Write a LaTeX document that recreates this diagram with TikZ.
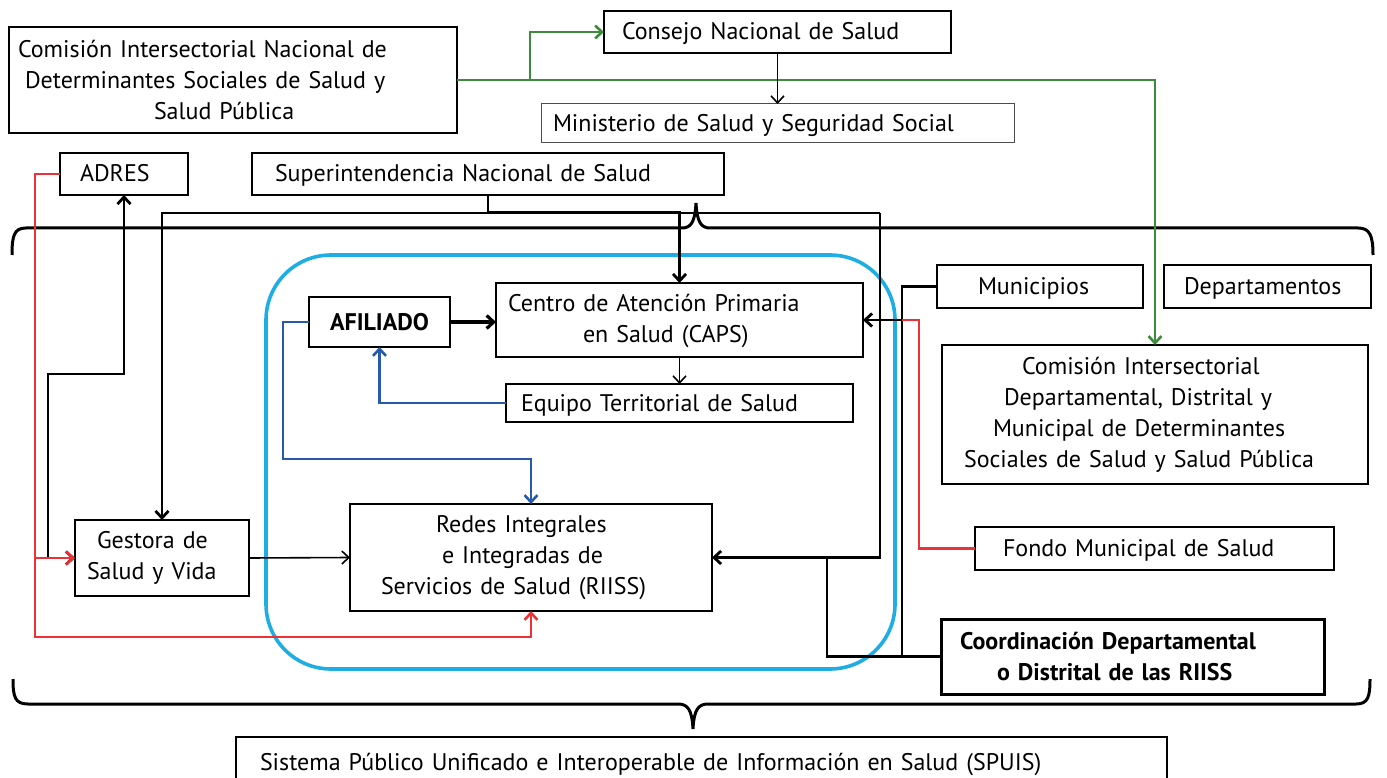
\documentclass[tikz,border=0pt]{standalone}
\usepackage{fontspec}
\setmainfont{PT Sans}
\usetikzlibrary{arrows.meta,calc}
\definecolor{cgreen}{RGB}{61,139,61}
\definecolor{cred}{RGB}{237,50,55}
\definecolor{cblue}{RGB}{40,90,170}
\definecolor{ccyan}{RGB}{30,174,228}
\begin{document}
\begin{tikzpicture}[x=1pt,y=-1pt,
  font=\fontsize{24}{31}\selectfont,
  >={Straight Barb[length=7pt,width=13pt]},
  bx/.style={draw, line width=2pt, inner ysep=0pt, outer sep=0pt, align=left},
  oneline/.style={text height=17pt, text depth=1pt},
  bk/.style={line width=2.8pt, black},
  bkthin/.style={line width=1.6pt, black},
  bkthick/.style={line width=3.2pt, black},
  rd/.style={line width=2.6pt, cred},
  bl/.style={line width=2.6pt, cblue},
  gr/.style={line width=2.6pt, cgreen},
  brace/.style={line width=3pt, black},
  region/.style={line width=3.6pt, ccyan, rounded corners=65pt}]
\useasboundingbox (0,0) rectangle (1387,778);

% region
\draw[region] (266,255) rectangle (895,669);

% braces
\draw[brace] (12,255) .. controls (12,236) and (14,228) .. (26,228) -- (682,228)
  .. controls (691,228) and (695,222) .. (696,203)
  .. controls (697,222) and (701,228) .. (710,228) -- (1358,228)
  .. controls (1370,228) and (1373,236) .. (1373,255);
\draw[brace] (13,679) .. controls (13,697) and (15,704) .. (28,704) -- (678,704)
  .. controls (688,704) and (692,710) .. (693,729)
  .. controls (694,710) and (698,704) .. (708,704) -- (1356,704)
  .. controls (1368,704) and (1370,697) .. (1370,679);

% nodes
\node[bx, minimum width=448pt, minimum height=106pt, text width=430pt, inner xsep=9pt] (comN) at (233,80)
  {Comisión Intersectorial Nacional de\\\hspace*{7pt}Determinantes Sociales de Salud y\\\hspace*{136pt}Salud Pública};
\node[bx, oneline, minimum height=42pt, text width=311pt, inner xsep=18pt] (consejo) at (777.5,32) {Consejo Nacional de Salud};
\node[bx, oneline, draw=black!70, line width=1pt, minimum height=39pt, text width=449pt, inner xsep=12pt] (minis) at (777.5,123.5) {Ministerio de Salud y Seguridad Social};
\node[bx, oneline, minimum height=42pt, text width=88pt, inner xsep=20pt] (adres) at (124,174) {ADRES};
\node[bx, oneline, minimum height=42pt, text width=426pt, inner xsep=23pt] (super) at (488,174) {Superintendencia Nacional de Salud};
\node[bx, oneline, minimum height=50pt, text width=141pt, inner xsep=0pt, align=center, font=\fontsize{24}{31}\selectfont\bfseries] (afiliado) at (379.5,322) {AFILIADO};
\node[bx, minimum height=74pt, text width=343pt, inner xsep=12pt] (caps) at (679.5,320)
  {\rule{0pt}{20pt}Centro de Atención Primaria\\\hspace*{75pt}en Salud (CAPS)};
\node[bx, oneline, minimum height=38pt, text width=317pt, inner xsep=15pt] (equipo) at (679.5,403) {Equipo Territorial de Salud};
\node[bx, minimum height=107pt, text width=300pt, inner xsep=31pt] (riiss) at (531,557.5)
  {\hspace*{55pt}Redes Integrales\\\hspace*{61pt}e Integradas de\\Servicios de Salud (RIISS)};
\node[bx, minimum height=76pt, text width=150pt, inner xsep=12pt] (gestora) at (162,558)
  {\hspace*{10pt}Gestora de\\Salud y Vida};
\node[bx, oneline, minimum height=43pt, text width=124pt, inner xsep=41pt] (muni) at (1040,286.5) {Municipios};
\node[bx, oneline, minimum height=43pt, text width=167pt, inner xsep=20pt] (depto) at (1267.5,286.5) {Departamentos};
\node[bx, minimum height=139pt, text width=382pt, inner xsep=22pt] (comD) at (1155,414.5)
  {\hspace*{58pt}Comisión Intersectorial\\\hspace*{40pt}Departamental, Distrital y\\\hspace*{29pt}Municipal de Determinantes\\Sociales de Salud y Salud Pública};
\node[bx, oneline, minimum height=43pt, text width=303pt, inner xsep=28pt] (fondo) at (1154.5,548.5) {Fondo Municipal de Salud};
\node[bx, line width=3pt, minimum height=75pt, text width=345pt, inner xsep=19pt, font=\fontsize{24}{31}\selectfont\bfseries] (coord) at (1132.5,656.5)
  {Coordinación Departamental\\\hspace*{37pt}o Distrital de las RIISS};
\node[bx, oneline, minimum height=50pt, text width=883pt, inner xsep=24pt] (spuis) at (701.5,762)
  {Sistema Público Unificado e Interoperable de Información en Salud (SPUIS)};

% junction coordinates
\coordinate (gb) at (530,80);
\coordinate (t1) at (880,213);
\coordinate (rj) at (35,558);
\coordinate (mj) at (902,320);

% green
\draw[gr,->] (comN.east) -| (comD.north);
\draw[gr,->] (gb) |- (consejo.west);

% black
\draw[bkthin,->] (consejo.south) -- (minis.north);
\draw[bk,->] (super.south) -- ++(0,17) -| (caps.north);
\draw[bk,->] (t1) -| (gestora.north);
\draw[bk,->] (t1) |- (riiss.east);
\draw[bk,<->] (adres.south) -- ++(0,179) -| (48,558) -- (gestora.west);
\draw[bkthin,->] (gestora.east) -- (riiss.west);
\draw[bkthick,->] (afiliado.east) -- (afiliado.east -| caps.west);
\draw[bkthin,->] (caps.south) -- (equipo.north);
\draw[bk] (muni.west) -| (902,656.5) -- (coord.west);
\draw[bk,->] (mj) -- (caps.east);
\draw[bk] (coord.west) -| (827,557.5);

% blue
\draw[bl,->] (equipo.west) -| (afiliado.south);
\draw[bl,->] (afiliado.west) -| (283,459) -| (riiss.north);

% red
\draw[rd,->] (adres.west) -| (35,637) -| (riiss.south);
\draw[rd,->] (rj) -- (gestora.west);
\draw[rd] (fondo.west) -| (919,320) -- (mj);
\end{tikzpicture}
\end{document}
